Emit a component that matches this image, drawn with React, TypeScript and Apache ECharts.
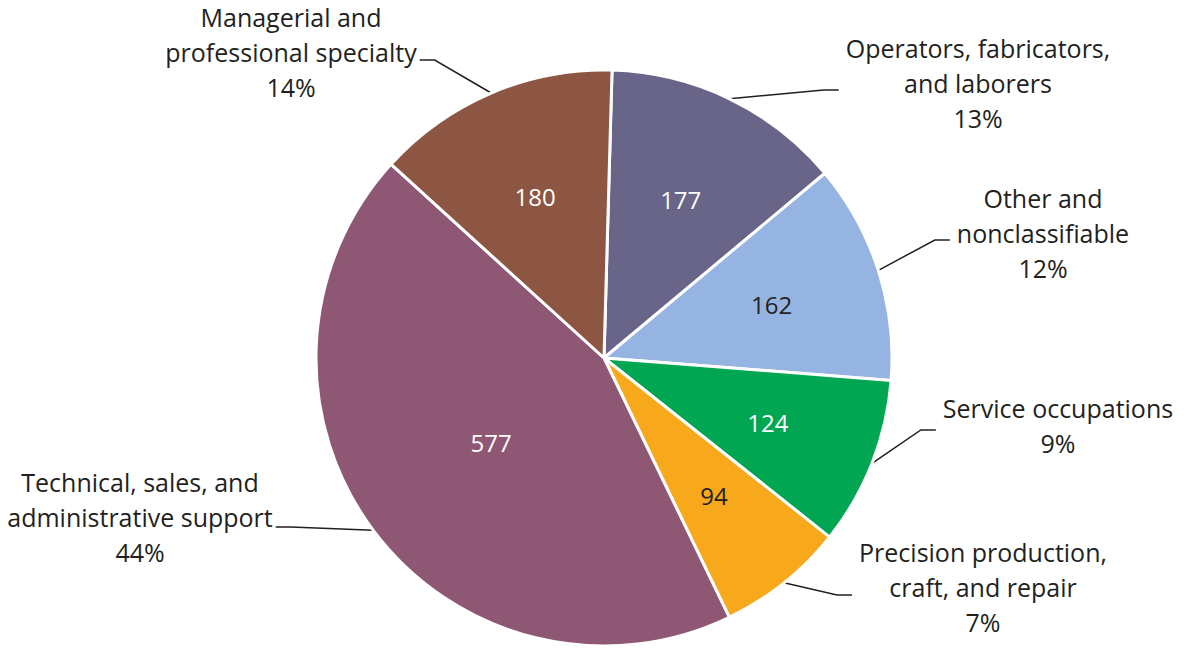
import React, { useEffect, useRef } from 'react';
import * as echarts from 'echarts';

// Data (clockwise from 12 o'clock)
const categories = [
  'Operators, fabricators,\nand laborers',
  'Other and\nnonclassifiable',
  'Service occupations',
  'Precision production,\ncraft, and repair',
  'Technical, sales, and\nadministrative support',
  'Managerial and\nprofessional specialty',
];
const values = [177, 162, 124, 94, 577, 180];
const percents = [13, 12, 9, 7, 44, 14];

// Styles
const sliceColors = ['#686589', '#96b4e1', '#00a651', '#f7a81b', '#8e5773', '#8d5642'];
const valueLabelColors = ['#ffffff', '#231f20', '#ffffff', '#231f20', '#ffffff', '#ffffff'];

// Layout: outside label centre [x, y] and the y where the leader line meets the label
const labelAnchors: number[][] = [
  [978, 83, 90],
  [1043, 233, 240],
  [1058, 425, 430],
  [983, 587, 595],
  [140, 517, 527],
  [291, 52, 60],
];

const FONT = '"Open Sans", "Noto Sans", sans-serif';
const TEXT = '#231f20';

export default function App() {
  const ref = useRef<HTMLDivElement>(null);
  useEffect(() => {
    document.body.style.margin = '0';
    const chart = echarts.init(ref.current as HTMLDivElement, null, { renderer: 'svg' });
    const center = [604, 358];
    const R = 288;
    const start = 88.4;
    const baseData = categories.map((name, i) => ({ name, value: values[i] }));

    chart.setOption({
      animation: false,
      backgroundColor: '#ffffff',
      series: [
        {
          type: 'pie',
          center,
          radius: [0, R],
          startAngle: start,
          clockwise: true,
          avoidLabelOverlap: false,
          itemStyle: { borderColor: '#ffffff', borderWidth: 3 },
          emphasis: { disabled: true },
          data: baseData.map((d, i) => ({ ...d, itemStyle: { color: sliceColors[i] } })),
          label: {
            show: true,
            position: 'outside',
            formatter: (p: any) => `${categories[p.dataIndex]}\n${percents[p.dataIndex]}%`,
            fontFamily: FONT,
            fontSize: 25,
            lineHeight: 35,
            color: TEXT,
          },
          labelLine: {
            show: true,
            length: 20,
            length2: 15,
            lineStyle: { color: TEXT, width: 1.5 },
          },
          labelLayout: (params: any) => {
            const i = params.dataIndex;
            const [lx, ly, lineY] = labelAnchors[i];
            const w = params.labelRect ? params.labelRect.width : 0;
            const left = lx < center[0];
            const endX = left ? lx + w / 2 + 3 : lx - w / 2 - 7;
            const midX = left ? endX + 15 : endX - 15;
            const p0 =
              params.labelLinePoints && params.labelLinePoints[0]
                ? params.labelLinePoints[0]
                : [midX, lineY];
            return {
              x: lx,
              y: ly,
              align: 'center',
              verticalAlign: 'middle',
              labelLinePoints: [p0, [midX, lineY], [endX, lineY]],
            };
          },
        },
        {
          type: 'pie',
          center,
          radius: [0, 276],
          startAngle: start,
          silent: true,
          emphasis: { disabled: true },
          itemStyle: { color: 'transparent', borderWidth: 0 },
          labelLine: { show: false },
          data: baseData.map((d, i) => ({
            ...d,
            label: { show: i === 4, color: valueLabelColors[i] },
          })),
          label: {
            position: 'inside',
            formatter: '{c}',
            fontFamily: FONT,
            fontSize: 24,
          },
        },
        {
          type: 'pie',
          center,
          radius: [58, R],
          startAngle: start,
          silent: true,
          emphasis: { disabled: true },
          itemStyle: { color: 'transparent', borderWidth: 0 },
          labelLine: { show: false },
          data: baseData.map((d, i) => ({
            ...d,
            label: { show: i !== 4, color: valueLabelColors[i] },
          })),
          label: {
            position: 'inside',
            formatter: '{c}',
            fontFamily: FONT,
            fontSize: 24,
          },
        },
      ],
    });
    return () => chart.dispose();
  }, []);
  return (
    <div
      ref={ref}
      style={{ position: 'absolute', left: 0, top: 0, width: 1193, height: 649 }}
    />
  );
}
